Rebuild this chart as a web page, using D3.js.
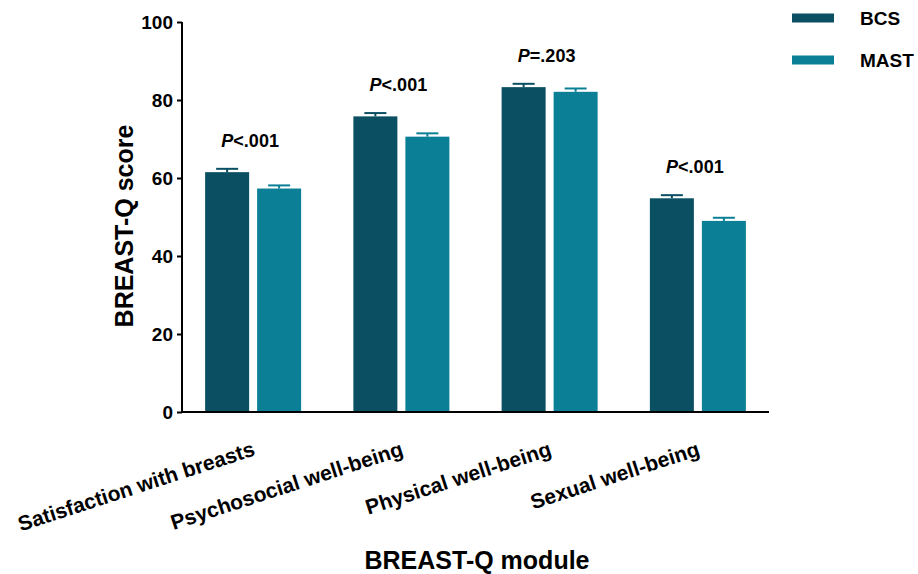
<!DOCTYPE html>
<html>
<head>
<meta charset="utf-8">
<script src="https://cdn.jsdelivr.net/npm/d3@7"></script>
<style>
  html, body { margin: 0; padding: 0; background: #fff; }
  svg { display: block; font-family: "Liberation Sans", Arial, sans-serif; font-weight: bold; }
</style>
</head>
<body>
<svg id="chart" width="918" height="574"></svg>
<script>
// BREAST-Q module scores by surgery type (mean with upper SE bar)
const modules = ["Satisfaction with breasts", "Psychosocial well-being", "Physical well-being", "Sexual well-being"];
const groups = ["BCS", "MAST"];
const bcsMeans = [61.5, 75.8, 83.3, 54.8];
const mastMeans = [57.3, 70.6, 82.1, 49.0];
const bcsErr = [0.85, 0.85, 0.85, 0.8];
const mastErr = [0.8, 0.85, 0.85, 0.8];
const pValues = ["<.001", "<.001", "=.203", "<.001"];
const yTicks = [0, 20, 40, 60, 80, 100];

const colors = { BCS: "#0b4f63", MAST: "#0a7f96" };

const svg = d3.select("#chart");

const y = d3.scaleLinear().domain([0, 100]).range([412, 22]);
const x0 = d3.scaleBand().domain(modules).range([179, 772]).padding(0);
const x1 = d3.scaleBand().domain(groups).range([-48, 48]).paddingInner(0.1538).paddingOuter(0);

const rows = modules.map((m, i) => ({
  module: m,
  p: pValues[i],
  vals: [
    { key: "BCS", v: bcsMeans[i], e: bcsErr[i] },
    { key: "MAST", v: mastMeans[i], e: mastErr[i] }
  ]
}));

// Bars and error bars
const g = svg.selectAll("g.grp").data(rows).join("g")
  .attr("class", "grp")
  .attr("transform", d => `translate(${x0(d.module) + x0.bandwidth() / 2},0)`);

g.selectAll("rect").data(d => d.vals).join("rect")
  .attr("x", d => x1(d.key))
  .attr("y", d => y(d.v))
  .attr("width", x1.bandwidth())
  .attr("height", d => y(0) - y(d.v))
  .attr("fill", d => colors[d.key]);

const eb = g.selectAll("g.err").data(d => d.vals).join("g").attr("class", "err");
eb.append("line")
  .attr("x1", d => x1(d.key) + x1.bandwidth() / 2)
  .attr("x2", d => x1(d.key) + x1.bandwidth() / 2)
  .attr("y1", d => y(d.v))
  .attr("y2", d => y(d.v + d.e))
  .attr("stroke", d => colors[d.key]).attr("stroke-width", 2);
eb.append("line")
  .attr("x1", d => x1(d.key) + x1.bandwidth() / 2 - 11)
  .attr("x2", d => x1(d.key) + x1.bandwidth() / 2 + 11)
  .attr("y1", d => y(d.v + d.e))
  .attr("y2", d => y(d.v + d.e))
  .attr("stroke", d => colors[d.key]).attr("stroke-width", 2);

// P-value labels
const pl = g.append("text")
  .attr("x", -3)
  .attr("y", d => y(d.vals[0].v + d.vals[0].e) - 22)
  .attr("text-anchor", "middle")
  .attr("font-size", 18)
  .attr("fill", "#000");
pl.append("tspan").attr("font-style", "italic").text("P");
pl.append("tspan").text(d => d.p);

// Y axis
const yAxis = d3.axisLeft(y).tickValues(yTicks).tickSize(5).tickPadding(4);
const ya = svg.append("g").attr("transform", "translate(182,0)").call(yAxis);
ya.select(".domain").attr("stroke", "#000").attr("stroke-width", 2).attr("d", "M0,22V412");
ya.selectAll(".tick line").attr("stroke", "#000").attr("stroke-width", 2);
ya.selectAll(".tick text").attr("font-size", 19).attr("font-family", "Liberation Sans, Arial, sans-serif")
  .attr("font-weight", "bold").attr("fill", "#000");

// X axis line
const xa = svg.append("g").attr("transform", "translate(0,412)")
  .call(d3.axisBottom(x0).tickSize(0).tickFormat(""));
xa.select(".domain").attr("stroke", "#000").attr("stroke-width", 2).attr("d", "M181,0H769");

// Category labels (rotated)
svg.append("g").selectAll("text").data(modules).join("text")
  .attr("text-anchor", "end")
  .attr("font-size", 21)
  .attr("fill", "#000")
  .attr("transform", d => `translate(${x0(d) + x0.bandwidth() / 2 + 3},455) rotate(-18)`)
  .text(d => d);

// Axis titles
svg.append("text")
  .attr("text-anchor", "middle")
  .attr("font-size", 25)
  .attr("fill", "#000")
  .attr("transform", "translate(133,226) rotate(-90)")
  .text("BREAST-Q score");

svg.append("text")
  .attr("x", 477).attr("y", 569)
  .attr("text-anchor", "middle")
  .attr("font-size", 25)
  .attr("fill", "#000")
  .text("BREAST-Q module");

// Legend
const lg = svg.append("g").selectAll("g").data(groups).join("g")
  .attr("transform", (d, i) => `translate(792,${18 + i * 42})`);
lg.append("rect").attr("x", 0).attr("y", -4.5).attr("width", 42).attr("height", 9)
  .attr("fill", d => colors[d]);
lg.append("text").attr("x", 68).attr("y", 7).attr("font-size", 19).attr("fill", "#000").text(d => d);
</script>
</body>
</html>
